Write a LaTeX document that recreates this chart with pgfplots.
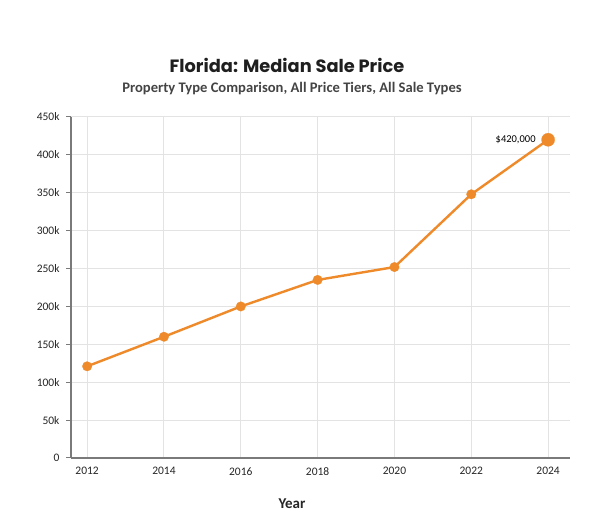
\documentclass[border=0pt]{standalone}
\usepackage{pgfplots}
\pgfplotsset{compat=1.18}
\usepackage{fontspec}
\setmainfont{Carlito}
\newfontfamily\titlefont{Poppins}
\definecolor{lineor}{HTML}{EF8A2A}
\definecolor{gridc}{HTML}{E3E3E3}
\definecolor{spine}{HTML}{7A7A7A}
\definecolor{subc}{HTML}{444444}
\begin{document}
\begin{tikzpicture}[x=1pt,y=1pt]
\fill[white] (0,0) rectangle (600,530);
\node[font=\titlefont\bfseries\fontsize{17.8}{21}\selectfont, text=black!88] at (287,465) {Florida: Median Sale Price};
\node[font=\bfseries\fontsize{14.6}{17}\selectfont, text=subc] at (292,441) {Property Type Comparison, All Price Tiers, All Sale Types};
\node[font=\bfseries\fontsize{15}{17}\selectfont, text=black!85] at (292,26) {Year};
\begin{axis}[
  at={(71pt,72pt)}, anchor=south west,
  scale only axis, width=499pt, height=341pt,
  xmin=2011.58, xmax=2024.57,
  ymin=0, ymax=450000,
  scaled y ticks=false,
  axis lines*=left,
  axis line style={spine, line width=1.4pt, -},
  xtick={2012,2014,...,2024},
  xticklabels={2012,2014,2016,2018,2020,2022,2024},
  ytick={0,50000,...,450000},
  yticklabels={0,50k,100k,150k,200k,250k,300k,350k,400k,450k},
  major x tick style={draw=none},
  major y tick style={spine, line width=1pt},
  tick align=outside,
  major tick length=5pt,
  grid=major,
  major grid style={gridc, line width=1pt},
  tick label style={font=\fontsize{11.5}{13}\selectfont, text=black!85},
  /pgf/number format/assume math mode=true,
  xticklabel style={yshift=-1pt},
  yticklabel style={xshift=-3pt},
  clip=false,
]
\addplot[lineor, line width=2.4pt, no marks]
  coordinates {(2012,121000) (2014,160000) (2016,200000) (2018,235000) (2020,252000) (2022,348000) (2024,420000)};
\addplot[only marks, mark=*, mark size=4.8pt, color=lineor, mark options={solid, draw=lineor, fill=lineor, line width=0.2pt}]
  coordinates {(2012,121000) (2014,160000) (2016,200000) (2018,235000) (2020,252000) (2022,348000)};
\addplot[only marks, mark=*, mark size=6.6pt, color=lineor, mark options={solid, draw=lineor, fill=lineor, line width=0.2pt}] coordinates {(2024,420000)}
  node[pos=1, anchor=east, xshift=-9pt, font=\fontsize{10.5}{12}\selectfont, text=black] {\$420,000};
\end{axis}
\end{tikzpicture}
\end{document}
